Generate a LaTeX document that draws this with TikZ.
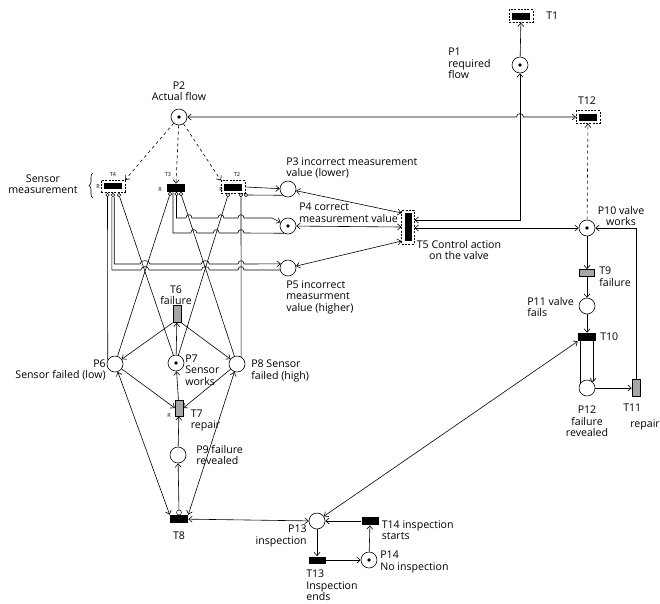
\documentclass[tikz,border=0pt]{standalone}
\usepackage{fontspec}
\setmainfont{Open Sans}
\usetikzlibrary{arrows.meta,fit,decorations.pathreplacing,calc}
\begin{document}
\begin{tikzpicture}[x=1pt,y=-1pt,
 line width=0.6pt,
 >={Straight Barb[length=3.5pt,width=6pt]},
 every node/.style={font=\fontsize{10.6}{11.5}\selectfont, inner sep=0pt},
 place/.style={circle,draw,minimum size=16pt,fill=white},
 tok/.style={place},
 trh/.style={rectangle,fill=black,minimum width=18pt,minimum height=7pt},
 trv/.style={rectangle,fill=black,minimum width=7pt,minimum height=17pt},
 grey/.style={fill=gray!70,draw=black,line width=0.5pt},
 dbox/.style={draw,dashed,dash pattern=on 2pt off 1.3pt,line width=0.5pt,inner sep=2.5pt},
 mk/.style={circle,draw,fill=white,minimum size=3.4pt,line width=0.45pt},
 lab/.style={align=left},
 tiny/.style={font=\fontsize{5.5}{6}\selectfont},
 hop/.style args={#1/#2/#3}{insert path={-- ({#1-#3},#2) .. controls ({#1-#3},{#2-4.5}) and ({#1+#3},{#2-4.5}) .. ({#1+#3},#2)}}
]
\path[use as bounding box] (0,0) rectangle (660,603);

% places
\node[tok] (P1) at (520,65) {};
\node[tok] (P2) at (179,117) {};
\node[place] (P3) at (288,189) {};
\node[tok] (P4) at (288,226) {};
\node[place] (P5) at (288,268) {};
\node[place] (P6) at (115,364) {};
\node[tok] (P7) at (176,363) {};
\node[place] (P8) at (237,364) {};
\node[place] (P9) at (178,455) {};
\node[tok] (P10) at (587,228) {};
\node[place] (P11) at (587,306) {};
\node[place] (P12) at (587,388) {};
\node[place] (P13) at (317,521) {};
\node[tok] (P14) at (369,560) {};
\foreach \p in {P1,P2,P4,P7,P10,P14} \fill (\p.center) circle (1.8pt);

% transitions
\node[trh] (T1) at (521,16) {};
\node[dbox,fit=(T1)] (T1o) {};
\node[trh] (T12) at (588,117) {};
\node[dbox,fit=(T12)] (T12o) {};
\node[trh,minimum height=6pt] (T4) at (113,186) {};
\node[dbox,fit=(T4)] (T4o) {};
\node[trh,minimum height=8pt] (T3) at (176,188) {};
\node[trh] (T2) at (233,187) {};
\node[dbox,fit=(T2)] (T2o) {};
\node[trv,minimum height=28pt] (T5) at (408,227) {};
\node[dbox,fit=(T5)] (T5o) {};
\node[trv,grey,minimum width=8pt] (T6) at (177,314) {};
\node[trv,grey,minimum width=8pt,minimum height=16pt] (T7) at (179,408) {};
\node[trh,minimum height=8pt] (T8) at (179,519) {};
\node[trh,grey,minimum width=15pt] (T9) at (587,273) {};
\node[trh,minimum height=8pt] (T10) at (587,337) {};
\node[trv,grey,minimum width=8pt] (T11) at (636,388) {};
\node[trh,minimum width=17pt] (T13) at (317,560) {};
\node[trh,minimum width=17pt,minimum height=8pt] (T14) at (370,521) {};

% test-arc markers
\node[mk] (m4a) at (107.5,195) {};
\node[mk] (m4b) at (113,195) {};
\node[mk] (m4c) at (119,195) {};
\node[mk] (m3a) at (170,194) {};
\node[mk] (m3b) at (176.5,194) {};
\node[mk] (m3c) at (181,194) {};
\node[mk] (m2a) at (228,195) {};
\node[mk] (m2b) at (241,195) {};
\node[mk] (m2c) at (246,195) {};
\node[mk,minimum size=5pt] (m8) at (179,512.5) {};

% P2 dashed arcs
\draw[->,dashed] (P2) -- (T4o.north east);
\draw[->,dashed] (P2) -- (T3.north);
\draw[->,dashed] (P2) -- (T2o.north west);

% P2 <-> T12, T5 <-> P1, T1
\draw[<->] (P2) [hop=520/117/3.5] -- (T12o);
\draw[<->] ($(T5o.east)+(0,-7)$) -| (P1);
\draw[->] (P1) -- (T1o);
\draw[<->] ($(T5o.east)+(0,1)$) -- (P10);
\draw[->,dashed] (P10) -- (T12o);

% P3,P4,P5 <-> T5
\draw[<->] (P3) -- ($(T5o.north west)+(0,3)$);
\draw[<->] (P4) -- (T5o.west);
\draw[<->] (P5) -- ($(T5o.south west)+(0,-3)$);

% T2 -> P3
\draw[->] (T2o.east) -- (P3);
\draw (m2c.east) -- (P3.229);
\draw (m2b.south) -- (P8.60);
\draw (m2a) -- (P7);

% T3 -> P4
\draw[->] (m3b.south) -- (176.5,218) [hop=188.9/218/3] [hop=220.9/218/3] [hop=241/218/3] -- (272,218) -- (P4);
\draw ($(T3.south)+(-3,0)$) -- (173,233) [hop=193.8/233/3] [hop=216.2/233/3] [hop=241/233/3] -- (P4.241);
\draw (m3a) -- (P6);
\draw (m3c) -- (P8);

% T4 -> P5
\draw[->] ($(m4b.south)+(1.2,0)$) -- (114.2,264) [hop=145/264/5] [hop=205.3/264/4] [hop=241/264/3] -- (P5.150);
\draw ($(m4b.south)+(-1.2,0)$) -- (111.8,270) [hop=145/270/4] [hop=205.5/270/4] [hop=241/270/3] -- (P5.194.5);
\draw (m4a.south) -- (P6.151);
\draw (m4c) -- (P7);

% sensor state net
\draw[->] (P7) -- (T6);
\draw[->] (T6.south west) -- (P6);
\draw[->] (T6.south east) -- (P8);
\draw[->] (T7) -- (P7);
\draw[->] (P6) -- (T7.west);
\draw[->] (P8) -- (T7.east);
\draw[->] (P9) -- (T7);
\draw[->] (m8) -- (P9);
\draw[<->] (P6) -- (T8.north west);
\draw[<->] (P8) -- (T8.north east);

% valve net
\draw[->] (P10) -- (T9);
\draw[->] (T9) -- (P11);
\draw[->] (P11) -- (T10);
\draw[->] (T10.south -| P12.45) -- (P12.45);
\draw (T10.south -| P12.150) -- (P12.150);
\draw[->] (P12) -- (T11);
\draw[->] (T11.north) |- (P10);
\draw[<->] (P13) -- (T10.south west);

% inspection
\draw[<->] (T8) -- (P13);
\draw[->] (P13) -- (T13);
\draw[->] (T13) -- (P14);
\draw[->] (P14) -- (T14);
\draw[->] (T14) -- (P13);

% brace
\draw[decorate,decoration={brace,amplitude=4pt}] (93,198) -- (93,173);

% labels
\node[anchor=west] (lT1) at (546,16) {T1};
\node[lab,anchor=west] (lP1) at (448,63.3) {P1\\required\\flow};
\node (lT12) at (587,101) {T12};
\node[align=center] (lP2) at (179,91) {P2\\Actual flow};
\node[tiny] (lT4) at (113,175) {T4};
\node[tiny] (lT3) at (168,175) {T3};
\node[tiny] (lT2) at (237,175) {T2};
\node[tiny] (rT4) at (98,187) {R};
\node[tiny] (rT3) at (160,190) {R};
\node[tiny] (rT2) at (221,190) {R};
\node[tiny] (rT7) at (169,416) {R};
\node[align=center] (lSM) at (43,184) {Sensor\\measurement};
\node[lab,anchor=west] (lP3) at (286,168) {P3 incorrect measurement\\value (lower)};
\node[lab,anchor=west] (lP4) at (299,212.5) {P4 correct\\measurement value};
\node[lab,anchor=west] (lP5) at (286,297) {P5 incorrect\\measurment\\value (higher)};
\node[align=center] (lT5) at (459,250) {T5 Control action\\on the valve};
\node[align=center] (lP10) at (621,216) {P10 valve\\works};
\node[lab,anchor=west] (lT9) at (599,276.7) {T9\\failure};
\node[lab,anchor=west] (lP11) at (527,307) {P11 valve\\fails};
\node[anchor=west] (lT10) at (600,337) {T10};
\node[align=center] (lP12) at (587,421.5) {P12\\failure\\revealed};
\node[anchor=west] (lT11) at (623,408) {T11};
\node[anchor=west] (lT11b) at (630,425) {repair};
\node[align=center] (lT6) at (176,295) {T6\\failure};
\node[align=right,anchor=east] (lP6) at (106,370) {P6\\Sensor failed (low)};
\node[lab,anchor=west] (lP7) at (185,370) {P7\\Sensor\\works};
\node[lab,anchor=west] (lP8) at (251,371) {P8 Sensor\\failed (high)};
\node[lab,anchor=west] (lT7) at (190.5,420.5) {T7\\repair};
\node[lab,anchor=west] (lP9) at (196,455) {P9 failure\\revealed};
\node (lT8) at (179,536) {T8};
\node[align=right,anchor=east] (lP13) at (307,536) {P13\\inspection};
\node[lab,anchor=west] (lT13) at (306,585.5) {T13\\Inspection\\ends};
\node[lab,anchor=west] (lT14) at (381.5,530) {T14 inspection\\starts};
\node[lab,anchor=west] (lP14) at (380,562) {P14\\No inspection};
\end{tikzpicture}
\end{document}
